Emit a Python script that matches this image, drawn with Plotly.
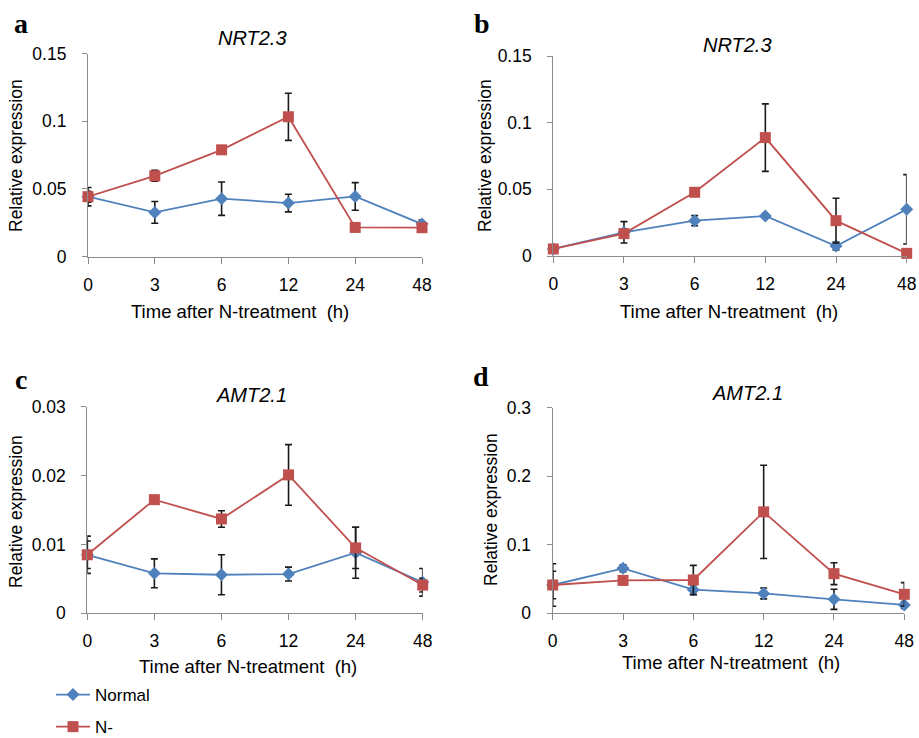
import plotly.graph_objects as go

times = ["0", "3", "6", "12", "24", "48"]

# Panel a (NRT2.3)
a_normal = [0.0443, 0.0327, 0.0428, 0.0396, 0.0445, 0.0241]
a_normal_err = [0.0068, 0.0080, 0.0123, 0.0065, 0.0102, 0.0030]
a_nminus = [0.0443, 0.0597, 0.0789, 0.1033, 0.0216, 0.0214]
a_nminus_err = [0.0040, 0.0040, 0.0015, 0.0174, 0.0010, 0.0010]

# Panel b (NRT2.3)
b_normal = [0.0053, 0.0178, 0.0265, 0.0300, 0.0075, 0.0350]
b_normal_err = [0.0020, 0.0080, 0.0038, 0.0015, 0.0030, 0.0260]
b_nminus = [0.0053, 0.0168, 0.0478, 0.0888, 0.0265, 0.0020]
b_nminus_err = [0.0020, 0.0030, 0.0010, 0.0253, 0.0168, 0.0010]

# Panel c (AMT2.1)
c_normal = [0.0085, 0.0058, 0.0056, 0.0057, 0.0088, 0.0045]
c_normal_err = [0.0027, 0.0021, 0.0029, 0.0010, 0.0037, 0.0020]
c_nminus = [0.0085, 0.0165, 0.0137, 0.0201, 0.0095, 0.0041]
c_nminus_err = [0.0020, 0.0003, 0.0012, 0.0044, 0.0030, 0.0010]

# Panel d (AMT2.1)
d_normal = [0.0413, 0.0656, 0.0345, 0.0290, 0.0204, 0.0122]
d_normal_err = [0.0310, 0.0050, 0.0070, 0.0080, 0.0146, 0.0050]
d_nminus = [0.0413, 0.0480, 0.0486, 0.1480, 0.0578, 0.0277]
d_nminus_err = [0.0200, 0.0020, 0.0214, 0.0680, 0.0160, 0.0170]

y_ticks = {
    "a": [0, 0.05, 0.1, 0.15],
    "b": [0, 0.05, 0.1, 0.15],
    "c": [0, 0.01, 0.02, 0.03],
    "d": [0, 0.1, 0.2, 0.3],
}
y_ticktext = {
    "a": ["0", "0.05", "0.1", "0.15"],
    "b": ["0", "0.05", "0.1", "0.15"],
    "c": ["0", "0.01", "0.02", "0.03"],
    "d": ["0", "0.1", "0.2", "0.3"],
}
gene_titles = {"a": "NRT2.3", "b": "NRT2.3", "c": "AMT2.1", "d": "AMT2.1"}

W, H = 919, 738
BLUE = "#4F81BD"
RED = "#C0504D"
AXC = "#8c8c8c"
FONT = "Liberation Sans, Arial, sans-serif"

# pixel boxes: (left, right, top, bottom)
boxes = {
    "a": (88, 422, 53.5, 256.7),
    "b": (553.3, 906.7, 56, 256),
    "c": (87.3, 422.7, 406.7, 613.3),
    "d": (552.7, 904.3, 407.7, 613.3),
}
data = {
    "a": (a_normal, a_normal_err, a_nminus, a_nminus_err),
    "b": (b_normal, b_normal_err, b_nminus, b_nminus_err),
    "c": (c_normal, c_normal_err, c_nminus, c_nminus_err),
    "d": (d_normal, d_normal_err, d_nminus, d_nminus_err),
}

fig = go.Figure()
layout = {}
annotations = []

title_pos = {"a": (252, 38), "b": (737, 45), "c": (251, 395), "d": (747, 393)}
letter_pos = {"a": (21, 24), "b": (482, 24), "c": (21, 379), "d": (481, 377)}
xtitle_pos = {"a": (240, 311), "b": (729, 311), "c": (248, 666), "d": (731, 662)}
ytitle_pos = {"a": (16, 156), "b": (485, 156), "c": (16, 512), "d": (491, 510)}

for i, key in enumerate(["a", "b", "c", "d"]):
    n = "" if i == 0 else str(i + 1)
    l, r, t, b = boxes[key]
    xa = "xaxis" + n
    ya = "yaxis" + n
    layout[xa] = dict(
        domain=[l / W, r / W], anchor="y" + n, type="category",
        categoryorder="array", categoryarray=times, range=[0, 5],
        showline=True, linecolor=AXC, linewidth=1.2, showgrid=False, zeroline=False,
        ticks="outside", ticklen=6, tickcolor=AXC, tickwidth=1.2, automargin=False,
        tickfont=dict(family=FONT, size=17.5, color="black"), ticklabelstandoff=6,
    )
    yt = y_ticks[key]
    layout[ya] = dict(
        domain=[1 - b / H, 1 - t / H], anchor="x" + n, range=[yt[0], yt[-1]],
        tickvals=yt, ticktext=y_ticktext[key],
        showline=True, linecolor=AXC, linewidth=1.2, showgrid=False, zeroline=False,
        ticks="outside", ticklen=5, tickcolor=AXC, tickwidth=1.2, automargin=False,
        tickfont=dict(family=FONT, size=17.5, color="black"), ticklabelstandoff=12,
    )
    nv, ne, mv, me = data[key]
    fig.add_trace(go.Scatter(
        x=times, y=nv, xaxis="x" + n, yaxis="y" + n, name="Normal",
        mode="lines+markers", line=dict(color=BLUE, width=1.8),
        marker=dict(symbol="diamond", size=10, color=BLUE),
        error_y=dict(type="data", array=ne, color="#1a1a1a", thickness=1.6, width=3.5),
        cliponaxis=False, showlegend=(i == 0), legendgroup="normal",
    ))
    fig.add_trace(go.Scatter(
        x=times, y=mv, xaxis="x" + n, yaxis="y" + n, name="N-",
        mode="lines+markers", line=dict(color=RED, width=1.8),
        marker=dict(symbol="square", size=11, color=RED),
        error_y=dict(type="data", array=me, color="#1a1a1a", thickness=1.6, width=3.5),
        cliponaxis=False, showlegend=(i == 0), legendgroup="nminus",
    ))
    tx, ty = title_pos[key]
    annotations.append(dict(x=tx / W, y=1 - ty / H, xref="paper", yref="paper",
                            text="<i>" + gene_titles[key] + "</i>", showarrow=False,
                            font=dict(family=FONT, size=20, color="black"),
                            xanchor="center", yanchor="middle"))
    lx, ly = letter_pos[key]
    annotations.append(dict(x=lx / W, y=1 - ly / H, xref="paper", yref="paper",
                            text="<b>" + key + "</b>", showarrow=False,
                            font=dict(family="Liberation Serif, Times New Roman, serif", size=28, color="black"),
                            xanchor="center", yanchor="middle"))
    xx, xy = xtitle_pos[key]
    annotations.append(dict(x=xx / W, y=1 - xy / H, xref="paper", yref="paper",
                            text="Time after N-treatment&nbsp;&nbsp;(h)", showarrow=False,
                            font=dict(family=FONT, size=18.5, color="black"),
                            xanchor="center", yanchor="middle"))
    yx, yy = ytitle_pos[key]
    annotations.append(dict(x=yx / W, y=1 - yy / H, xref="paper", yref="paper",
                            text="Relative expression", showarrow=False, textangle=-90,
                            font=dict(family=FONT, size=17.5, color="black"),
                            xanchor="center", yanchor="middle"))

fig.update_layout(
    **layout,
    width=W, height=H,
    margin=dict(l=0, r=0, t=0, b=0, autoexpand=False),
    paper_bgcolor="white", plot_bgcolor="white",
    annotations=annotations,
    showlegend=True,
    legend=dict(x=51 / W, y=1 - 677 / H, xanchor="left", yanchor="top",
                orientation="v", tracegroupgap=7, itemwidth=34,
                font=dict(family=FONT, size=17, color="black"),
                bgcolor="rgba(0,0,0,0)"),
)

fig.write_html(
    "out.html",
    config={"displayModeBar": False},
    post_script="document.body.style.margin='0px';document.body.style.overflow='hidden';",
)
